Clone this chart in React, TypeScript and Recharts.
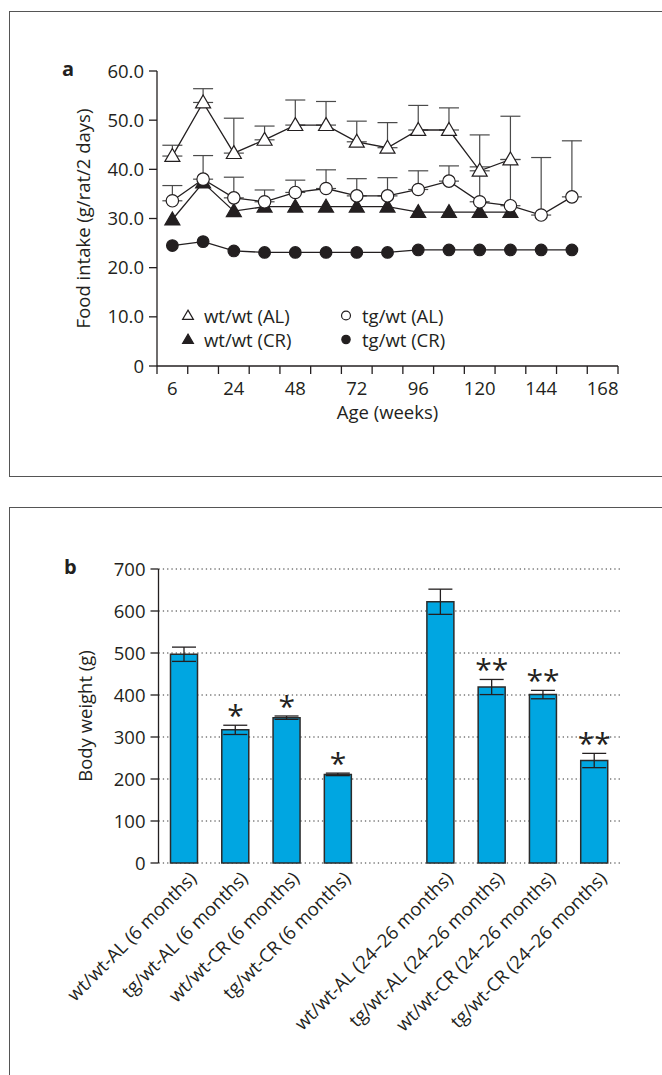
import React from 'react';
import {
  Bar,
  CartesianGrid,
  ComposedChart,
  ErrorBar,
  Label,
  Line,
  LineChart,
  Scatter,
  XAxis,
  YAxis,
} from 'recharts';

// Panel a: food intake per rat per 2 days, mean with an upper SD bar.
// The age axis is categorical: 15 equal slots, points sit in the slot centres,
// tick marks sit on the slot edges and every other slot is labelled.
const AGES = ['6', '12', '24', '36', '48', '60', '72', '84', '96', '108', '120', '132', '144', '156', '168'];
const AGE_LABELS = ['6', '24', '48', '72', '96', '120', '144', '168'];
const FOOD_TICKS = [0, 10, 20, 30, 40, 50, 60];

const WT_AL = [42.7, 53.6, 43.3, 46.0, 49.0, 49.0, 45.6, 44.4, 48.0, 48.0, 39.7, 42.0];
const WT_AL_SD = [2.2, 2.8, 7.1, 2.8, 5.1, 4.8, 4.2, 5.1, 5.0, 4.5, 0.8, 0];
const TG_AL = [33.6, 38.0, 34.2, 33.4, 35.3, 36.1, 34.6, 34.6, 35.9, 37.6, 33.4, 32.6, 30.7, 34.4];
const TG_AL_SD = [3.1, 4.8, 4.2, 2.4, 2.5, 3.8, 3.5, 3.7, 3.8, 3.1, 13.6, 18.2, 11.7, 11.4];
const WT_CR = [29.8, 37.3, 31.5, 32.4, 32.4, 32.4, 32.4, 32.4, 31.3, 31.3, 31.3, 31.3];
const TG_CR = [24.5, 25.3, 23.4, 23.1, 23.1, 23.1, 23.1, 23.1, 23.6, 23.6, 23.6, 23.6, 23.6, 23.6];

// Panel b: body weight, mean +/- SEM, with significance marks.
const GROUPS = [
  'wt/wt-AL (6 months)',
  'tg/wt-AL (6 months)',
  'wt/wt-CR (6 months)',
  'tg/wt-CR (6 months)',
  '',
  'wt/wt-AL (24–26 months)',
  'tg/wt-AL (24–26 months)',
  'wt/wt-CR (24–26 months)',
  'tg/wt-CR (24–26 months)',
];
const BW = [497, 317, 346, 211, null, 622, 419, 401, 244];
const BW_SEM = [17, 11, 4, 3, null, 30, 18, 10, 17];
const SIG = ['', '*', '*', '*', '', '', '**', '**', '**'];
const BW_TICKS = [0, 100, 200, 300, 400, 500, 600, 700];

const INK = '#231f20';
const ERR = '#4a4a4a';
const BLUE = '#00a6e1';
const FONT = "'Open Sans', sans-serif";
const FS = 18.5;

const foodRows = TG_AL.map((_, i) => ({
  pos: i + 0.5,
  wtAL: WT_AL[i] ?? null,
  wtALErr: WT_AL[i] != null ? [0, WT_AL_SD[i]] : undefined,
  tgAL: TG_AL[i],
  tgALErr: [0, TG_AL_SD[i]],
  wtCR: WT_CR[i] ?? null,
  tgCR: TG_CR[i] ?? null,
}));

const edgeTicks = AGES.map((_, i) => i).concat(AGES.length);
const ageTicks = [...edgeTicks, ...AGE_LABELS.map((a) => AGES.indexOf(a) + 0.5)].sort((a, b) => a - b);

const bwRows = GROUPS.map((g, i) => ({
  name: g,
  bw: BW[i],
  sem: BW_SEM[i],
  sig: SIG[i],
  sigY: SIG[i] && BW[i] != null ? BW[i] + (BW_SEM[i] ?? 0) : null,
}));
const slotTicks = GROUPS.map((_, i) => i).concat(GROUPS.length);

type Shape = 'tri' | 'triFill' | 'circ' | 'circFill';

const marker = (shape: Shape, cx: number, cy: number, k: string, s = 1) => {
  if (shape === 'tri' || shape === 'triFill') {
    const h = 7.5 * s;
    return (
      <path
        key={k}
        d={`M${cx},${cy - h}L${cx + h},${cy + 0.72 * h}L${cx - h},${cy + 0.72 * h}Z`}
        fill={shape === 'triFill' ? INK : '#fff'}
        stroke={INK}
        strokeWidth={1.2}
      />
    );
  }
  return (
    <circle
      key={k}
      cx={cx}
      cy={cy}
      r={(shape === 'circ' ? 6.2 : 5.8) * s}
      fill={shape === 'circFill' ? INK : '#fff'}
      stroke={INK}
      strokeWidth={1.2}
    />
  );
};

const dotFor = (shape: Shape) => (p: any) => {
  if (p.cx == null || p.cy == null || p.value == null) return <g key={`n${p.index}`} />;
  return marker(shape, p.cx, p.cy, `d${p.index}`);
};

function AgeTick({ x, y, payload }: any) {
  const v = payload.value as number;
  if (Number.isInteger(v)) {
    return <line x1={x} x2={x} y1={y} y2={y + 8} stroke={INK} strokeWidth={1.3} />;
  }
  return (
    <text x={x} y={y + 16} dy="0.71em" textAnchor="middle" fontSize={FS} fill={INK} fontFamily={FONT}>
      {AGES[Math.floor(v)]}
    </text>
  );
}

function GroupTick({ x, y, payload }: any) {
  const ax = x + 9;
  const ay = y + 12;
  return (
    <text
      x={ax}
      y={ay}
      dy="0.35em"
      textAnchor="end"
      transform={`rotate(-45 ${ax} ${ay})`}
      fontSize={FS}
      fill={INK}
      fontFamily={FONT}
    >
      {payload.value}
    </text>
  );
}

const yTitle = (text: string, dx: number) => (props: any) => {
  const vb = props.viewBox;
  const x = vb.x + dx;
  const y = vb.y + vb.height / 2;
  return (
    <text x={x} y={y} transform={`rotate(-90 ${x} ${y})`} textAnchor="middle" fontSize={FS} fill={INK} fontFamily={FONT}>
      {text}
    </text>
  );
};

const xTitle = (text: string, dy: number) => (props: any) => {
  const vb = props.viewBox;
  return (
    <text x={vb.x + vb.width / 2} y={vb.y + dy} textAnchor="middle" fontSize={FS} fill={INK} fontFamily={FONT}>
      {text}
    </text>
  );
};

function Star(p: any) {
  if (p.cx == null || p.cy == null || !p.payload.sig) return <g />;
  return (
    <text x={p.cx} y={p.cy + 1} textAnchor="middle" fontSize={30} fill={INK} fontFamily={FONT}>
      {p.payload.sig}
    </text>
  );
}

const LEGEND: { name: string; shape: Shape }[] = [
  { name: 'wt/wt (AL)', shape: 'tri' },
  { name: 'tg/wt (AL)', shape: 'circ' },
  { name: 'wt/wt (CR)', shape: 'triFill' },
  { name: 'tg/wt (CR)', shape: 'circFill' },
];

const frame = (top: number, height: number): React.CSSProperties => ({
  position: 'absolute',
  left: 9,
  top,
  width: 720,
  height,
  border: '1.5px solid #555',
  boxSizing: 'border-box',
});

const letter = (left: number, top: number): React.CSSProperties => ({
  position: 'absolute',
  left,
  top,
  fontSize: 20,
  fontWeight: 700,
  color: INK,
  lineHeight: '20px',
});

export default function App() {
  return (
    <div
      style={{
        position: 'fixed',
        left: 0,
        top: 0,
        width: 662,
        height: 1075,
        overflow: 'hidden',
        background: '#fff',
        fontFamily: FONT,
      }}
    >
      <div style={frame(11, 466)} />
      <div style={frame(507, 700)} />
      <div style={letter(62, 59)}>a</div>
      <div style={letter(64, 557)}>b</div>

      <div style={{ position: 'absolute', left: 0, top: 0 }}>
        <LineChart width={662} height={477} data={foodRows} margin={{ top: 71, right: 44, bottom: 81, left: 80 }}>
          <XAxis
            type="number"
            dataKey="pos"
            domain={[0, AGES.length]}
            ticks={ageTicks}
            interval={0}
            tick={<AgeTick />}
            tickLine={false}
            tickSize={0}
            tickMargin={0}
            height={30}
            axisLine={{ stroke: INK, strokeWidth: 1.3 }}
          >
            <Label content={xTitle('Age (weeks)', 53)} />
          </XAxis>
          <YAxis
            domain={[0, 60]}
            ticks={FOOD_TICKS}
            interval={0}
            width={77}
            tickSize={8}
            tickMargin={5}
            tickFormatter={(v: number) => (v === 0 ? '0' : v.toFixed(1))}
            tick={{ fontSize: FS, fill: INK }}
            tickLine={{ stroke: INK, strokeWidth: 1.3 }}
            axisLine={{ stroke: INK, strokeWidth: 1.3 }}
          >
            <Label content={yTitle('Food intake (g/rat/2 days)', 10)} />
          </YAxis>
          <Line dataKey="wtCR" stroke={INK} strokeWidth={1.3} dot={dotFor('triFill')} activeDot={false} isAnimationActive={false} />
          <Line dataKey="tgCR" stroke={INK} strokeWidth={1.3} dot={dotFor('circFill')} activeDot={false} isAnimationActive={false} />
          <Line dataKey="wtAL" stroke={INK} strokeWidth={1.3} dot={dotFor('tri')} activeDot={false} isAnimationActive={false}>
            <ErrorBar dataKey="wtALErr" direction="y" width={10} stroke={ERR} strokeWidth={1.2} />
          </Line>
          <Line dataKey="tgAL" stroke={INK} strokeWidth={1.3} dot={dotFor('circ')} activeDot={false} isAnimationActive={false}>
            <ErrorBar dataKey="tgALErr" direction="y" width={10} stroke={ERR} strokeWidth={1.2} />
          </Line>
        </LineChart>
      </div>

      {LEGEND.map((l, i) => {
        const col = i % 2;
        const row = Math.floor(i / 2);
        return (
          <div
            key={l.name}
            style={{
              position: 'absolute',
              left: col === 0 ? 180 : 338,
              top: 303 + row * 24,
              height: 24,
              display: 'flex',
              alignItems: 'center',
              fontSize: FS,
              color: INK,
              whiteSpace: 'nowrap',
            }}
          >
            <svg width={16} height={16} style={{ marginRight: 8 }}>
              {marker(l.shape, 8, 8.5, l.name, 0.72)}
            </svg>
            {l.name}
          </div>
        );
      })}

      <div style={{ position: 'absolute', left: 0, top: 480 }}>
        <ComposedChart width={662} height={595} data={bwRows} margin={{ top: 89, right: 42, bottom: 62, left: 80 }} barSize={27}>
          <CartesianGrid xAxisId="cat" vertical={false} stroke="#333" strokeDasharray="1.3 3" />
          <XAxis
            xAxisId="edge"
            type="number"
            domain={[0, GROUPS.length]}
            ticks={slotTicks}
            interval={0}
            height={0}
            tickSize={8}
            tickFormatter={() => ''}
            tickLine={{ stroke: INK, strokeWidth: 1.3 }}
            axisLine={{ stroke: INK, strokeWidth: 1.3 }}
          />
          <XAxis
            xAxisId="cat"
            dataKey="name"
            type="category"
            height={150}
            interval={0}
            axisLine={false}
            tickLine={false}
            tickSize={0}
            tickMargin={0}
            tick={<GroupTick />}
          />
          <YAxis
            domain={[0, 700]}
            ticks={BW_TICKS}
            interval={0}
            width={78.5}
            tickSize={8}
            tickMargin={5}
            tick={{ fontSize: FS, fill: INK }}
            tickLine={{ stroke: INK, strokeWidth: 1.3 }}
            axisLine={{ stroke: INK, strokeWidth: 1.3 }}
          >
            <Label content={yTitle('Body weight (g)', 12)} />
          </YAxis>
          <Bar xAxisId="cat" dataKey="bw" fill={BLUE} stroke="#2b2b2b" strokeWidth={1.5} isAnimationActive={false}>
            <ErrorBar dataKey="sem" direction="y" width={12} stroke={INK} strokeWidth={1.3} />
          </Bar>
          <Scatter xAxisId="cat" dataKey="sigY" shape={<Star />} isAnimationActive={false} />
        </ComposedChart>
      </div>
    </div>
  );
}
